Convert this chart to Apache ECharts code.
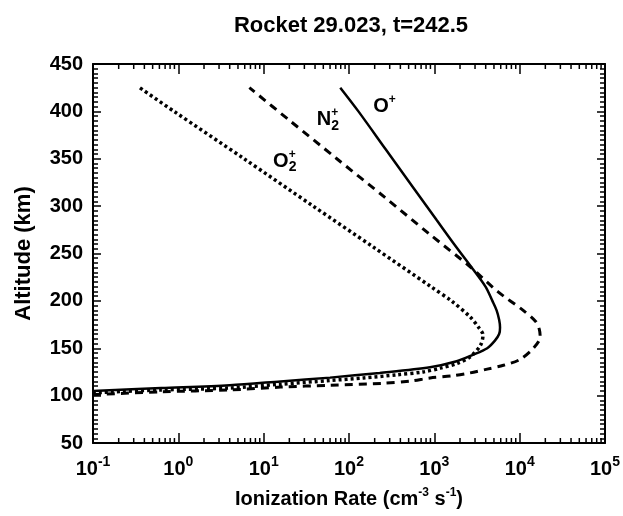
<!DOCTYPE html>
<html>
<head>
<meta charset="utf-8">
<title>Rocket 29.023, t=242.5</title>
<script src="https://cdn.jsdelivr.net/npm/echarts@6/dist/echarts.min.js"></script>
<style>
  html, body { margin: 0; padding: 0; background: #fff; }
  #chart { width: 623px; height: 516px; }
</style>
</head>
<body>
<div id="chart"></div>
<script>
// ionization rate (cm^-3 s^-1) against altitude (km)
var oAlt = [105, 108, 111, 115, 119, 124, 130, 136, 143, 150, 158, 165, 172, 180, 190, 200, 215, 235, 260, 285, 320, 360, 400, 425];
var oRate = [0.1, 0.63, 4.0, 15.8, 60, 229, 891, 1780, 2820, 4170, 5130, 5750, 5890, 5750, 5370, 4790, 3980, 2750, 1700, 1070, 562, 269, 129, 79];

var n2Alt = [101, 104, 106, 109, 111, 113, 115.4, 118.6, 121, 124, 128, 132, 138, 150, 162, 170, 178, 190, 210, 236, 270, 310, 350, 390, 425];
var n2Rate = [0.1, 0.63, 4.0, 15.8, 60, 251, 525, 891, 1660, 2630, 4170, 6460, 10000, 14500, 17400, 17000, 15500, 11000, 5500, 2630, 891, 257, 72, 20.4, 6.8];

var o2Alt = [103, 106, 108, 112, 116, 118.6, 122, 125, 129, 134, 141, 153, 164, 172, 183, 200, 215, 257, 300, 350, 400, 426];
var o2Rate = [0.1, 0.63, 4.0, 15.8, 60, 148, 363, 741, 1175, 1860, 2630, 3470, 3720, 3310, 2630, 1585, 912, 191, 38, 5.9, 0.89, 0.34];

// where the species names sit (rate, altitude)
var labelRate = [192, 42, 12.9];
var labelAlt = [405, 391, 347];

// axis ranges and log minor ticks
var xMin = 0.1, xMax = 100000;
var yMin = 50, yMax = 450;
var decades = [0.1, 1, 10, 100, 1000, 10000];
var minorSteps = [2, 3, 4, 5, 6, 7, 8, 9];

function pairs(xs, ys) {
  return xs.map(function (x, i) { return [x, ys[i]]; });
}

var minorX = [];
decades.forEach(function (d) {
  minorSteps.forEach(function (m) { minorX.push([d * m, yMin]); });
});

var myChart = echarts.init(document.getElementById('chart'));

var font = 'Liberation Sans, Arial, Helvetica, sans-serif';

function renderMinor(params, api) {
  var v = api.value(0);
  var b = api.coord([v, yMin]);
  var t = api.coord([v, yMax]);
  var st = { stroke: '#000', lineWidth: 1.5 };
  return {
    type: 'group',
    children: [
      { type: 'line', shape: { x1: b[0], y1: b[1], x2: b[0], y2: b[1] - 5 }, style: st },
      { type: 'line', shape: { x1: t[0], y1: t[1], x2: t[0], y2: t[1] + 5 }, style: st }
    ]
  };
}

var nameRich = {
  m: { fontFamily: font, fontSize: 20, fontWeight: 'bold', color: '#000', lineHeight: 26, verticalAlign: 'middle' },
  mt: { fontFamily: font, fontSize: 20, fontWeight: 'bold', color: 'rgba(0,0,0,0)', lineHeight: 26, verticalAlign: 'middle' },
  u: { fontFamily: font, fontSize: 12, fontWeight: 'bold', color: '#000', verticalAlign: 'top', lineHeight: 26 },
  d: { fontFamily: font, fontSize: 14, fontWeight: 'bold', color: '#000', verticalAlign: 'bottom', lineHeight: 26 }
};
var nameTexts = ['{m|O}{u|+}', '{m|N}{u|+}', '{m|O}{u|+}'];
var nameSubs = ['', '{mt|N}{d|2}', '{mt|O}{d|2}'];

var labelData = [];
labelRate.forEach(function (r, i) {
  labelData.push({ value: [r, labelAlt[i]], label: { formatter: nameTexts[i] } });
  if (nameSubs[i]) {
    labelData.push({ value: [r, labelAlt[i]], label: { formatter: nameSubs[i] } });
  }
});

myChart.setOption({
  animation: false,
  backgroundColor: '#fff',
  title: {
    text: 'Rocket 29.023, t=242.5',
    left: 346,
    textAlign: 'center',
    top: 10,
    textStyle: { fontFamily: font, fontSize: 22, fontWeight: 'bold', color: '#000' }
  },
  grid: { left: 93, right: 18, top: 64, bottom: 73 },
  xAxis: [
    {
      type: 'log',
      logBase: 10,
      min: xMin,
      max: xMax,
      position: 'bottom',
      axisLine: { lineStyle: { color: '#000', width: 2 } },
      axisTick: { inside: true, length: 10, lineStyle: { color: '#000', width: 1.5 } },
      splitLine: { show: false },
      axisLabel: {
        margin: 12,
        formatter: function (v) {
          var e = Math.round(Math.log(v) / Math.LN10);
          return '{b|10}{s|' + e + '}';
        },
        rich: {
          b: { fontFamily: font, fontSize: 20, fontWeight: 'bold', color: '#000', lineHeight: 24, verticalAlign: 'bottom' },
          s: { fontFamily: font, fontSize: 14, fontWeight: 'bold', color: '#000', lineHeight: 24, verticalAlign: 'top' }
        }
      },
      name: 'Ionization Rate (cm{s|-3} s{s|-1})',
      nameLocation: 'middle',
      nameGap: 44,
      nameTextStyle: {
        fontFamily: font, fontSize: 20, fontWeight: 'bold', color: '#000',
        rich: {
          s: { fontFamily: font, fontSize: 12, fontWeight: 'bold', color: '#000', verticalAlign: 'top', lineHeight: 24 }
        }
      }
    },
    {
      type: 'log',
      logBase: 10,
      min: xMin,
      max: xMax,
      position: 'top',
      axisLine: { lineStyle: { color: '#000', width: 2 } },
      axisTick: { inside: true, length: 10, lineStyle: { color: '#000', width: 1.5 } },
      axisLabel: { show: false },
      splitLine: { show: false }
    }
  ],
  yAxis: [
    {
      type: 'value',
      min: yMin,
      max: yMax,
      interval: 50,
      position: 'left',
      axisLine: { lineStyle: { color: '#000', width: 2 } },
      axisTick: { inside: true, length: 8, lineStyle: { color: '#000', width: 1.5 } },
      minorTick: { show: true, splitNumber: 10, length: 5, lineStyle: { color: '#000', width: 1.5 } },
      splitLine: { show: false },
      axisLabel: { margin: 10, fontFamily: font, fontSize: 20, fontWeight: 'bold', color: '#000' },
      name: 'Altitude (km)',
      nameLocation: 'middle',
      nameRotate: 90,
      nameGap: 58,
      nameTextStyle: { fontFamily: font, fontSize: 22, fontWeight: 'bold', color: '#000' }
    },
    {
      type: 'value',
      min: yMin,
      max: yMax,
      interval: 50,
      position: 'right',
      axisLine: { lineStyle: { color: '#000', width: 2 } },
      axisTick: { inside: true, length: 8, lineStyle: { color: '#000', width: 1.5 } },
      minorTick: { show: true, splitNumber: 10, length: 5, lineStyle: { color: '#000', width: 1.5 } },
      splitLine: { show: false },
      axisLabel: { show: false }
    }
  ],
  series: [
    {
      name: 'O+',
      type: 'line',
      data: pairs(oRate, oAlt),
      showSymbol: false,
      smooth: 0.3,
      lineStyle: { color: '#000', width: 2.5, type: 'solid' }
    },
    {
      name: 'N2+',
      type: 'line',
      data: pairs(n2Rate, n2Alt),
      showSymbol: false,
      smooth: 0.3,
      lineStyle: { color: '#000', width: 3, type: [8, 6], cap: 'butt' }
    },
    {
      name: 'O2+',
      type: 'line',
      data: pairs(o2Rate, o2Alt),
      showSymbol: false,
      smooth: 0.3,
      lineStyle: { color: '#000', width: 3.5, type: [3, 3], cap: 'butt' }
    },
    {
      type: 'custom',
      renderItem: renderMinor,
      data: minorX,
      encode: { x: 0, y: 1 },
      clip: false,
      silent: true
    },
    {
      type: 'scatter',
      symbolSize: 0,
      data: labelData,
      silent: true,
      itemStyle: { color: '#000', opacity: 1 },
      label: {
        show: true,
        position: 'inside',
        align: 'left',
        verticalAlign: 'middle',
        color: '#000',
        opacity: 1,
        textBorderWidth: 0,
        rich: nameRich
      }
    }
  ]
});
</script>
</body>
</html>
